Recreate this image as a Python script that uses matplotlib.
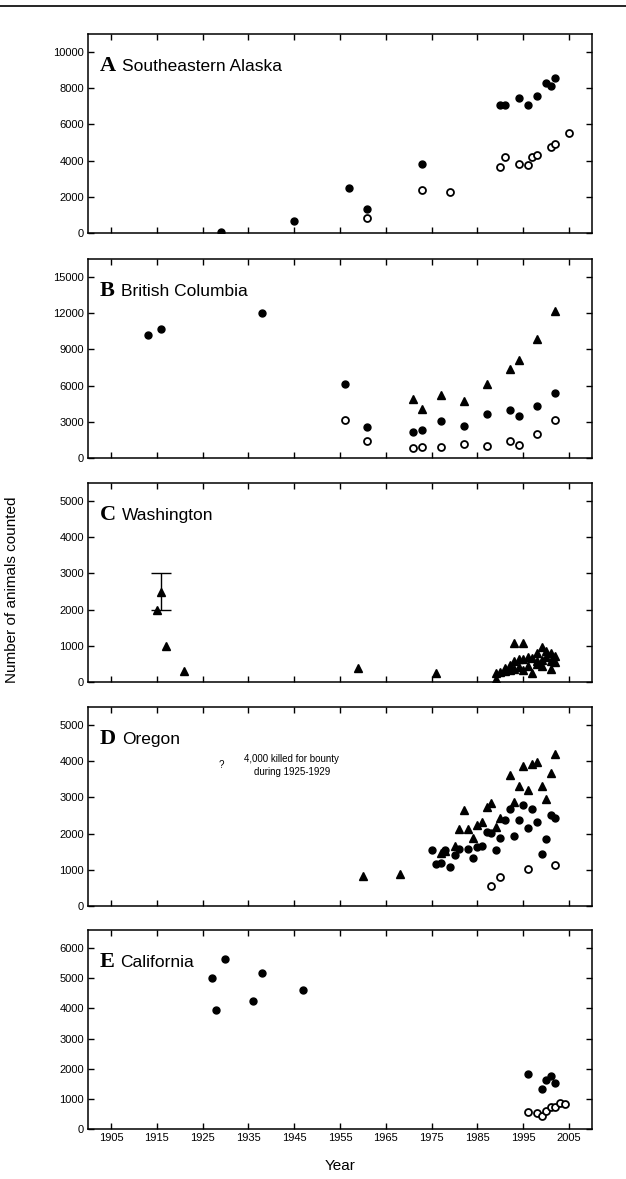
import matplotlib.pyplot as plt
from matplotlib.lines import Line2D

# panel A - Southeastern Alaska
a_fill_yr = [1929, 1945, 1957, 1961, 1973, 1990, 1991, 1994, 1996, 1998, 2000, 2001, 2002]
a_fill = [80, 690, 2500, 1320, 3800, 7050, 7100, 7450, 7050, 7550, 8300, 8100, 8550]
a_open_yr = [1961, 1973, 1979, 1990, 1991, 1994, 1996, 1997, 1998, 2001, 2002, 2005]
a_open = [820, 2390, 2240, 3630, 4180, 3800, 3740, 4180, 4300, 4780, 4900, 5540]

# panel B - British Columbia
b_fill_yr = [1913, 1916, 1938, 1956, 1961, 1971, 1973, 1977, 1982, 1987, 1992, 1994, 1998, 2002]
b_fill = [10220, 10720, 12000, 6110, 2560, 2170, 2310, 3060, 2640, 3640, 3940, 3500, 4330, 5390]
b_tri_yr = [1971, 1973, 1977, 1982, 1987, 1992, 1994, 1998, 2002]
b_tri = [4890, 4030, 5220, 4750, 6170, 7420, 8140, 9860, 12170]
b_open_yr = [1956, 1961, 1971, 1973, 1977, 1982, 1987, 1992, 1994, 1998, 2002]
b_open = [3170, 1440, 860, 940, 890, 1170, 1000, 1390, 1110, 1970, 3190]

# panel C - Washington
c_tri_yr = [1915, 1916, 1917, 1921, 1959, 1976,
            1989, 1989, 1990, 1991, 1991, 1992, 1992, 1993, 1993, 1993,
            1994, 1994, 1995, 1995, 1995, 1996, 1996, 1997, 1997, 1998,
            1998, 1998, 1999, 1999, 1999, 2000, 2000, 2001, 2001, 2001,
            2002, 2002]
c_tri = [2000, 2500, 1000, 300, 380, 260,
         90, 260, 280, 300, 380, 320, 470, 1090, 590, 350,
         630, 420, 1090, 630, 330, 680, 450, 660, 250, 590,
         800, 500, 980, 620, 450, 870, 700, 800, 590, 350,
         720, 560]
c_err_yr = 1916
c_err_val = 2500
c_err = 500

# panel D - Oregon
d_tri_yr = [1960, 1968, 1977, 1978, 1980, 1981, 1982, 1983, 1984, 1985, 1986, 1987,
            1988, 1989, 1990, 1992, 1993, 1994, 1995, 1996, 1997, 1998, 1999, 2000,
            2001, 2002]
d_tri = [840, 880, 1460, 1530, 1660, 2120, 2650, 2120, 1890, 2240, 2330, 2745,
         2855, 2175, 2440, 3620, 2865, 3315, 3865, 3205, 3925, 3990, 3315, 2950,
         3665, 4190]
d_fill_yr = [1975, 1976, 1977, 1978, 1979, 1980, 1981, 1983, 1984, 1985, 1986, 1987,
             1988, 1989, 1990, 1991, 1992, 1993, 1994, 1995, 1996, 1997, 1998, 1999,
             2000, 2001, 2002]
d_fill = [1547, 1152, 1180, 1547, 1069, 1409, 1566, 1584, 1317, 1621, 1657, 2053,
          2007, 1547, 1870, 2376, 2671, 1934, 2376, 2782, 2146, 2671, 2330, 1428,
          1842, 2514, 2440]
d_open_yr = [1988, 1990, 1996, 2002]
d_open = [552, 790, 1030, 1120]

# panel E - California
e_fill_yr = [1927, 1928, 1930, 1936, 1938, 1947, 1996, 1999, 2000, 2001, 2002]
e_fill = [5000, 3950, 5640, 4230, 5180, 4600, 1820, 1340, 1630, 1760, 1520]
e_open_yr = [1996, 1998, 1999, 2000, 2001, 2002, 2003, 2004]
e_open = [550, 520, 440, 610, 740, 720, 870, 830]

letters = ['A', 'B', 'C', 'D', 'E']
regions = ['Southeastern Alaska', 'British Columbia', 'Washington', 'Oregon', 'California']
ylims = [11000, 16500, 5500, 5500, 6600]
ysteps = [2000, 3000, 1000, 1000, 1000]
ytops = [10000, 15000, 5000, 5000, 6000]
xticks = list(range(1905, 2006, 10))

plt.rcParams['font.family'] = ['Liberation Sans', 'DejaVu Sans']

W, H = 626, 1179
fig = plt.figure(figsize=(W / 100, H / 100), dpi=100)

left, right = 88, 592
tops = [34, 259, 483, 707, 930]
ph = 199

axes = []
for i in range(5):
    ax = fig.add_axes([left / W, 1 - (tops[i] + ph) / H, (right - left) / W, ph / H])
    ax.set_xlim(1900, 2010)
    ax.set_ylim(0, ylims[i])
    ax.set_xticks(xticks)
    ax.set_yticks(range(0, ytops[i] + 1, ysteps[i]))
    ax.tick_params(direction='in', top=True, right=True, length=4, width=1,
                   labelsize=8, pad=3)
    if i < 4:
        ax.tick_params(labelbottom=False)
    for s in ax.spines.values():
        s.set_linewidth(1.1)
    t = ax.text(0.024, 0.815, letters[i], transform=ax.transAxes, fontsize=16,
                fontweight='bold', family='Liberation Serif', va='baseline')
    ax.annotate(regions[i], xy=(1, 0), xycoords=t, xytext=(4, 1),
                textcoords='offset points', fontsize=12.5, va='bottom')
    axes.append(ax)

fill_kw = dict(linestyle='none', marker='o', markersize=5, color='black')
open_kw = dict(linestyle='none', marker='o', markersize=5, markerfacecolor='white',
               markeredgecolor='black', markeredgewidth=1.3)
tri_kw = dict(linestyle='none', marker='^', markersize=6, color='black')

ax = axes[0]
ax.plot(a_fill_yr, a_fill, **fill_kw)
ax.plot(a_open_yr, a_open, **open_kw)

ax = axes[1]
ax.plot(b_fill_yr, b_fill, **fill_kw)
ax.plot(b_tri_yr, b_tri, **tri_kw)
ax.plot(b_open_yr, b_open, **open_kw)

ax = axes[2]
ax.errorbar([c_err_yr], [c_err_val], yerr=[c_err], fmt='none', ecolor='black',
            elinewidth=1, capsize=7, capthick=1)
ax.plot(c_tri_yr, c_tri, **tri_kw)

ax = axes[3]
ax.plot(d_tri_yr, d_tri, **tri_kw)
ax.plot(d_fill_yr, d_fill, **fill_kw)
ax.plot(d_open_yr, d_open, **open_kw)
ax.text(1929, 3900, '?', fontsize=7, ha='center', va='center')
ax.text(1944.5, 3880, '4,000 killed for bounty\nduring 1925-1929', fontsize=7,
        ha='center', va='center', linespacing=1.3)

ax = axes[4]
ax.plot(e_fill_yr, e_fill, **fill_kw)
ax.plot(e_open_yr, e_open, **open_kw)

fig.text(12 / W, 1 - 590 / H, 'Number of animals counted', rotation=90,
         ha='center', va='center', fontsize=11)
fig.text((left + right) / 2 / W, 1 - 1166 / H, 'Year', ha='center', va='center',
         fontsize=11)

fig.add_artist(Line2D([0, 1], [1 - 6 / H, 1 - 6 / H], color='black', linewidth=1.2,
                      transform=fig.transFigure))

fig.savefig('out.png', dpi=100)
